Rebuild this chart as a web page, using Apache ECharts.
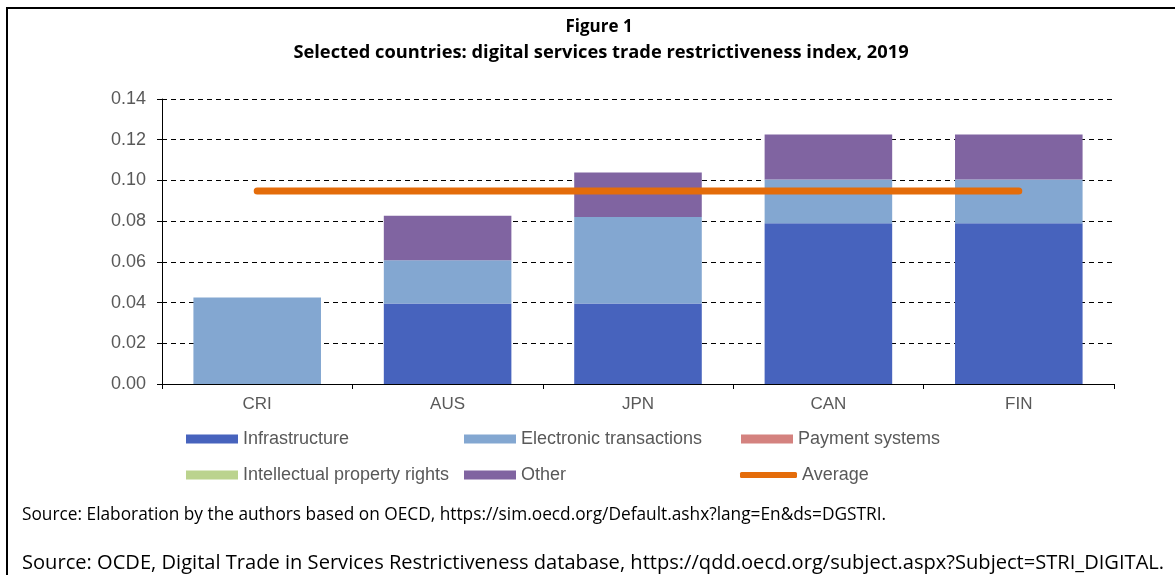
<!DOCTYPE html>
<html>
<head>
<meta charset="utf-8">
<script src="https://cdn.jsdelivr.net/npm/echarts@6/dist/echarts.min.js"></script>
<style>
html,body{margin:0;padding:0;background:#fff;}
#chart{width:1175px;height:575px;}
</style>
</head>
<body>
<div id="chart"></div>
<script>
var categories = ['CRI', 'AUS', 'JPN', 'CAN', 'FIN'];
var infrastructure = [0, 0.0395, 0.0395, 0.079, 0.079];
var electronic = [0.0425, 0.0213, 0.0425, 0.0215, 0.0215];
var payment = [0, 0, 0, 0, 0];
var ipRights = [0, 0, 0, 0, 0];
var other = [0, 0.0218, 0.0219, 0.0221, 0.0221];
var average = [0.0948, 0.0948, 0.0948, 0.0948, 0.0948];
var yTicks = [0, 0.02, 0.04, 0.06, 0.08, 0.10, 0.12, 0.14];

var chart = echarts.init(document.getElementById('chart'));
var legendText = {fontFamily: 'Liberation Sans, Arial', fontSize: 18, color: '#595959'};
function lg(name, left, top, icon, h, w) {
  return {
    data: [name], left: left, top: top, itemWidth: w || 52, itemHeight: h || 9,
    icon: icon || 'rect', itemGap: 0, padding: 0, textStyle: legendText, selectedMode: false
  };
}
var barBase = {type: 'bar', stack: 'total', barCategoryGap: '33%'};
chart.setOption({
  animation: false,
  title: [
    {text: 'Figure 1', left: 594, textAlign: 'center', top: 14,
     textStyle: {fontFamily: 'Open Sans', fontWeight: 'bold', fontSize: 17, color: '#000'}},
    {text: 'Selected countries: digital services trade restrictiveness index, 2019', left: 596, textAlign: 'center', top: 39,
     textStyle: {fontFamily: 'Open Sans', fontWeight: 'bold', fontSize: 18.3, color: '#000'}}
  ],
  graphic: [
    {type: 'polyline', shape: {points: [[7, 575], [7, 8], [1175, 8]]}, style: {stroke: '#000', lineWidth: 2, fill: null}},
    {type: 'text', left: 22, top: 507, style: {text: 'Source: Elaboration by the authors based on OECD, https://sim.oecd.org/Default.ashx?lang=En&ds=DGSTRI.', fontFamily: 'Open Sans', fontSize: 17.3, fill: '#000'}},
    {type: 'text', left: 22, top: 553, style: {text: 'Source: OCDE, Digital Trade in Services Restrictiveness database, https://qdd.oecd.org/subject.aspx?Subject=STRI_DIGITAL.', fontFamily: 'Open Sans', fontSize: 20.1, fill: '#000'}}
  ],
  legend: [
    lg('Infrastructure', 186, 430),
    lg('Electronic transactions', 464, 430),
    lg('Payment systems', 741, 430),
    lg('Intellectual property rights', 186, 466),
    lg('Other', 464, 466),
    lg('Average', 740, 466, 'roundRect', 6, 57)
  ],
  grid: {left: 162, right: 61, top: 99, bottom: 191},
  xAxis: {
    type: 'category', data: categories,
    axisLine: {lineStyle: {color: '#000', width: 1}},
    axisTick: {show: true, length: 5, lineStyle: {color: '#000'}},
    axisLabel: {fontFamily: 'Liberation Sans, Arial', fontSize: 17, color: '#595959', margin: 12}
  },
  yAxis: {
    type: 'value', min: 0, max: 0.14, interval: 0.02,
    axisLine: {show: true, lineStyle: {color: '#000'}},
    axisTick: {show: true, length: 5, lineStyle: {color: '#000'}},
    axisLabel: {fontFamily: 'Liberation Sans, Arial', fontSize: 18, color: '#595959', margin: 16,
      formatter: function (v) { return v.toFixed(2); }},
    splitLine: {lineStyle: {color: '#000', type: [5, 4], width: 1}}
  },
  series: [
    Object.assign({name: 'Infrastructure', data: infrastructure, itemStyle: {color: '#4763BD'}}, barBase),
    Object.assign({name: 'Electronic transactions', data: electronic, itemStyle: {color: '#83A7D1'}}, barBase),
    Object.assign({name: 'Payment systems', data: payment, itemStyle: {color: '#D4827F'}}, barBase),
    Object.assign({name: 'Intellectual property rights', data: ipRights, itemStyle: {color: '#BBD38E'}}, barBase),
    Object.assign({name: 'Other', data: other, itemStyle: {color: '#8064A1'}}, barBase),
    {name: 'Average', type: 'line', data: average, symbol: 'none', itemStyle: {color: '#E46C0A'},
     lineStyle: {color: '#E46C0A', width: 7, cap: 'round'}, z: 5}
  ]
});
</script>
</body>
</html>
